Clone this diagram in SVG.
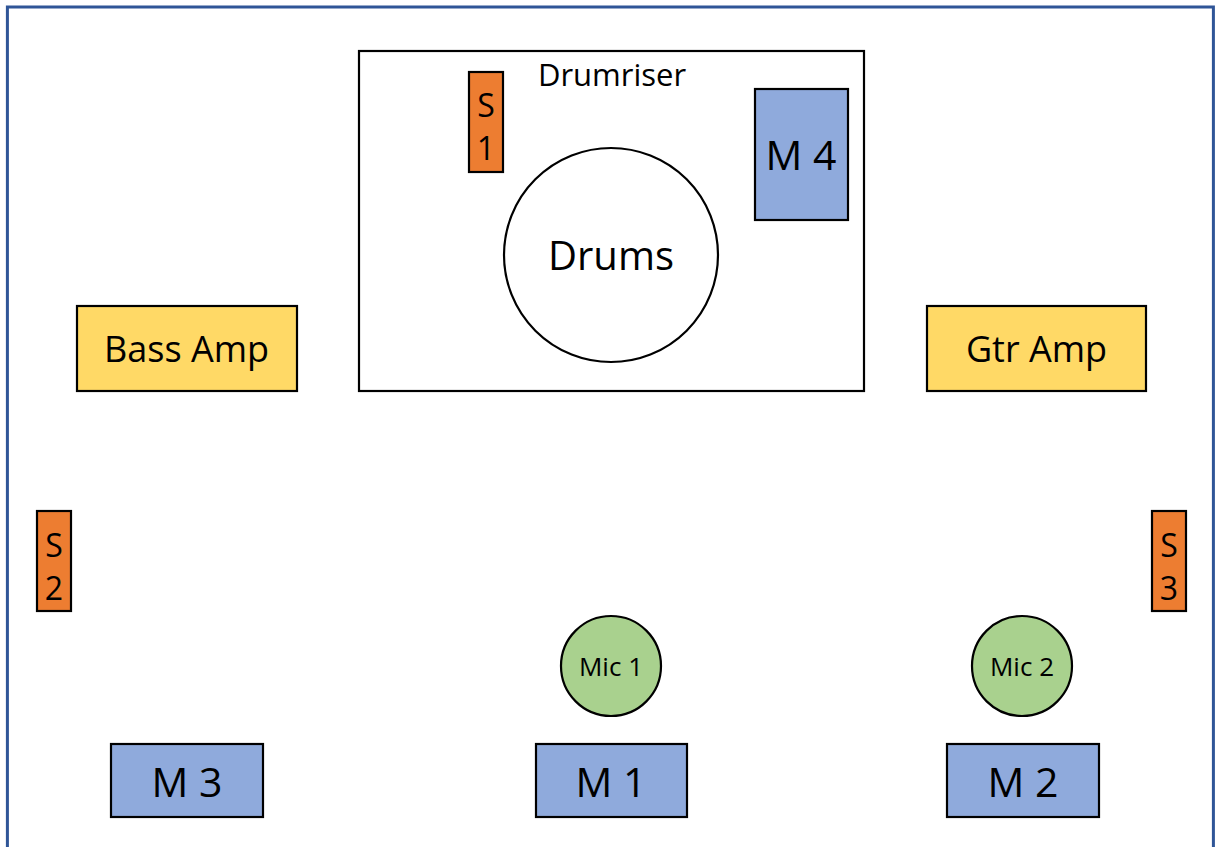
<svg xmlns="http://www.w3.org/2000/svg" width="1219" height="847" viewBox="0 0 1219 847">
<style>
.box{stroke:#000;stroke-width:2.2}
.spk{fill:#ED7D31}
.mon{fill:#8FAADC}
.amp{fill:#FFD966}
.mic{fill:#A9D18E}
text{font-family:"Open Sans","Liberation Sans",sans-serif;fill:#000;text-anchor:middle}
</style>
<rect x="0" y="0" width="1219" height="847" fill="#fff"/>
<rect x="7.4" y="7" width="1206" height="870" fill="none" stroke="#2F5597" stroke-width="3"/>
<g id="connectors"/>
<g id="drumriser">
<rect class="box" x="359" y="51" width="505" height="340" fill="#fff"/>
<text x="612" y="86" font-size="31">Drumriser</text>
</g>
<g id="drums">
<circle class="box" cx="611" cy="255" r="107" fill="#fff"/>
<text x="611" y="270" font-size="40">Drums</text>
</g>
<g id="s1">
<rect class="box spk" x="469" y="72" width="34" height="100"/>
<text x="486" y="117" font-size="32">S</text>
<text x="486" y="160" font-size="32">1</text>
</g>
<g id="m4">
<rect class="box mon" x="755" y="89" width="93" height="131"/>
<text x="801" y="170" font-size="41">M 4</text>
</g>
<g id="bass-amp">
<rect class="box amp" x="77" y="306" width="220" height="85"/>
<text x="186.5" y="362" font-size="36">Bass Amp</text>
</g>
<g id="gtr-amp">
<rect class="box amp" x="927" y="306" width="219" height="85"/>
<text x="1036.5" y="362" font-size="36">Gtr Amp</text>
</g>
<g id="s2">
<rect class="box spk" x="37" y="511" width="34" height="100"/>
<text x="54" y="557" font-size="32">S</text>
<text x="54" y="600" font-size="32">2</text>
</g>
<g id="s3">
<rect class="box spk" x="1152" y="511" width="34" height="100"/>
<text x="1169" y="557" font-size="32">S</text>
<text x="1169" y="600" font-size="32">3</text>
</g>
<g id="mic1">
<circle class="box mic" cx="611" cy="666" r="50"/>
<text x="611" y="676" font-size="26">Mic 1</text>
</g>
<g id="mic2">
<circle class="box mic" cx="1022" cy="666" r="50"/>
<text x="1022" y="676" font-size="26">Mic 2</text>
</g>
<g id="m3">
<rect class="box mon" x="111" y="744" width="152" height="73"/>
<text x="187" y="797" font-size="41">M 3</text>
</g>
<g id="m1">
<rect class="box mon" x="536" y="744" width="151" height="73"/>
<text x="611" y="797" font-size="41">M 1</text>
</g>
<g id="m2">
<rect class="box mon" x="947" y="744" width="152" height="73"/>
<text x="1023" y="797" font-size="41">M 2</text>
</g>
</svg>
